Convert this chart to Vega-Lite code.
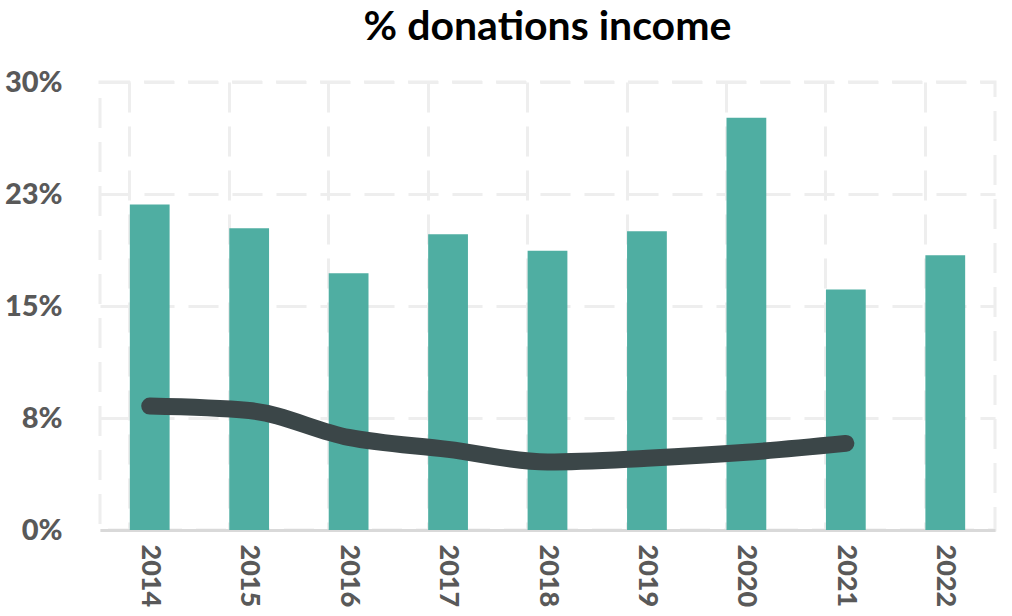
{
  "$schema": "https://vega.github.io/schema/vega-lite/v6.json",
  "autosize": {"type": "none"},
  "padding": {"left": 100, "top": 82, "right": 17, "bottom": 86},
  "width": 895,
  "height": 448,
  "background": "white",
  "config": {
    "view": {"stroke": "#eeeeee", "strokeWidth": 3, "strokeDash": [30, 14]},
    "font": "Lato"
  },
  "title": {
    "text": "% donations income",
    "fontSize": 41,
    "fontWeight": "bold",
    "color": "#000000",
    "anchor": "middle",
    "offset": 19,
    "font": "Lato"
  },
  "data": {
    "values": [
      {"year": "2014", "pct": 21.8, "trend": 8.3},
      {"year": "2015", "pct": 20.2, "trend": 8.0},
      {"year": "2016", "pct": 17.2, "trend": 6.2},
      {"year": "2017", "pct": 19.8, "trend": 5.4},
      {"year": "2018", "pct": 18.7, "trend": 4.55},
      {"year": "2019", "pct": 20.0, "trend": 4.8},
      {"year": "2020", "pct": 27.6, "trend": 5.2},
      {"year": "2021", "pct": 16.1, "trend": 5.8},
      {"year": "2022", "pct": 18.4, "trend": null}
    ]
  },
  "encoding": {
    "x": {
      "field": "year",
      "type": "nominal",
      "scale": {"paddingInner": 0.6, "paddingOuter": 0.3},
      "axis": {
        "title": null,
        "labelAngle": 90,
        "labelAlign": "left",
        "labelBaseline": "middle",
        "labelFont": "Lato",
        "labelFontSize": 27,
        "labelFontWeight": 900,
        "labelColor": "#595959",
        "labelPadding": 14,
        "ticks": false,
        "domainColor": "#d9d9d9",
        "domainWidth": 3,
        "grid": true,
        "bandPosition": 0,
        "gridColor": "#eeeeee",
        "gridWidth": 3,
        "gridDash": [30, 14]
      }
    }
  },
  "layer": [
    {
      "mark": {"type": "bar", "color": "#4faea2"},
      "encoding": {
        "y": {
          "field": "pct",
          "type": "quantitative",
          "scale": {"domain": [0, 30], "nice": false},
          "axis": {
            "title": null,
            "values": [0, 7.5, 15, 22.5, 30],
            "labelExpr": "round(datum.value) + '%'",
            "labelFont": "Lato",
            "labelFontSize": 29,
            "labelFontWeight": 900,
            "labelColor": "#595959",
            "labelPadding": 38,
            "ticks": false,
            "domain": false,
            "grid": true,
            "gridColor": "#eeeeee",
            "gridWidth": 3,
            "gridDash": [30, 14]
          }
        }
      }
    },
    {
      "transform": [{"filter": "datum.trend != null"}],
      "mark": {"type": "line", "color": "#3b4648", "strokeWidth": 17, "strokeCap": "round", "interpolate": "monotone"},
      "encoding": {
        "y": {"field": "trend", "type": "quantitative"}
      }
    }
  ]
}
